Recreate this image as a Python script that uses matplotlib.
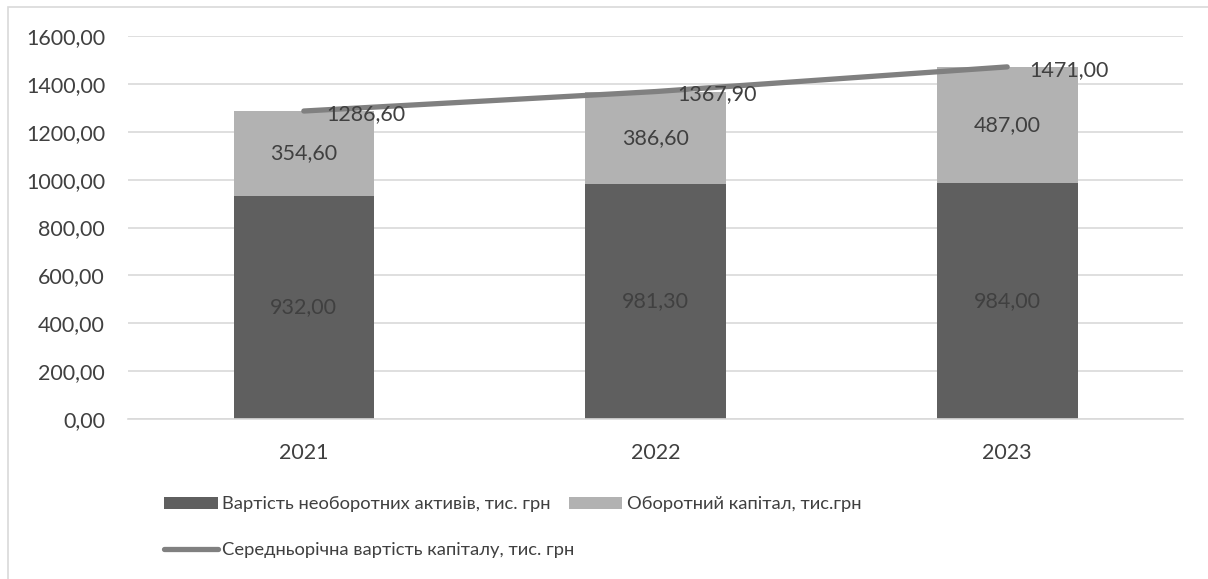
import matplotlib.pyplot as plt
from matplotlib.patches import Rectangle
from matplotlib.ticker import FuncFormatter

years = ["2021", "2022", "2023"]
fixed_assets = [932.00, 981.30, 984.00]
working_capital = [354.60, 386.60, 487.00]
avg_capital = [1286.60, 1367.90, 1471.00]

lbl_fixed = "Вартість необоротних активів, тис. грн"
lbl_work = "Оборотний капітал, тис.грн"
lbl_avg = "Середньорічна вартість капіталу, тис. грн"

plt.rcParams['font.family'] = ['Lato', 'DejaVu Sans']
txt = '#404040'
fs = 15.5


def fmt(v):
    return f"{v:.2f}".replace('.', ',')


fig = plt.figure(figsize=(12.08, 5.79), dpi=100)
ax = fig.add_axes([128 / 1208, 1 - 419 / 579, 1055 / 1208, 383 / 579])

x = list(range(len(years)))
b1 = ax.bar(x, fixed_assets, width=0.4, color='#5f5f5f', zorder=2, label=lbl_fixed)
b2 = ax.bar(x, working_capital, width=0.4, bottom=fixed_assets, color='#b2b2b2',
            zorder=2, label=lbl_work)
ln, = ax.plot(x, avg_capital, color='#808080', lw=3.8, solid_capstyle='round',
              zorder=3, label=lbl_avg)

for i in x:
    ax.text(i, fixed_assets[i] / 2, fmt(fixed_assets[i]), ha='center', va='center',
            fontsize=fs, color='#404040', zorder=4)
    ax.text(i, fixed_assets[i] + working_capital[i] / 2, fmt(working_capital[i]),
            ha='center', va='center', fontsize=fs, color=txt, zorder=4)
    ax.annotate(fmt(avg_capital[i]), (i, avg_capital[i]), xytext=(16, -2),
                textcoords='offset points', ha='left', va='center',
                fontsize=fs, color=txt, zorder=4)

ax.set_xlim(-0.5, 2.5)
ax.set_ylim(0, 1600)
ax.set_yticks(range(0, 1601, 200))
ax.yaxis.set_major_formatter(FuncFormatter(lambda v, p: fmt(v)))
ax.set_xticks(x, years)
ax.grid(axis='y', color='#d9d9d9', lw=1.2, zorder=0)
ax.tick_params(length=0, labelsize=fs, labelcolor=txt)
ax.tick_params(axis='x', pad=17)
ax.tick_params(axis='y', pad=16.5)
for s in ['top', 'right', 'left']:
    ax.spines[s].set_visible(False)
ax.spines['bottom'].set_color('#d9d9d9')
ax.spines['bottom'].set_linewidth(1.2)

leg_kw = dict(loc='upper left', frameon=False, fontsize=13.2, labelcolor=txt,
              handlelength=2.9, handletextpad=0.25, borderaxespad=0)
fig.legend([b1, b2], [lbl_fixed, lbl_work], ncol=2, columnspacing=1.0,
           bbox_to_anchor=(157 / 1208, 1 - 489 / 579), **leg_kw)
fig.legend([ln], [lbl_avg], bbox_to_anchor=(157 / 1208, 1 - 535 / 579), **leg_kw)

fig.patches.append(Rectangle((8 / 1208, -0.1), 1.2, 1 - 7 / 579 + 0.1,
                             transform=fig.transFigure, fill=False,
                             edgecolor='#d9d9d9', lw=1.2))

fig.savefig('out.png', dpi=100)
